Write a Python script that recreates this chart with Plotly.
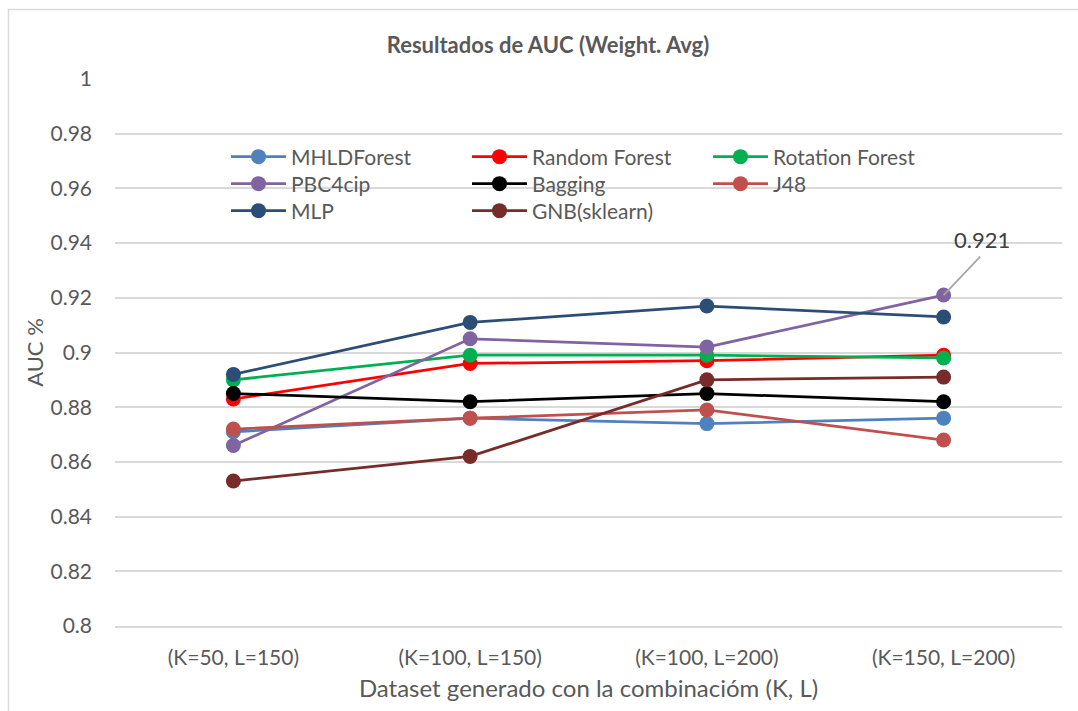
import plotly.graph_objects as go

categories = ["(K=50, L=150)", "(K=100, L=150)", "(K=100, L=200)", "(K=150, L=200)"]

mhldforest = [0.871, 0.876, 0.874, 0.876]
random_forest = [0.883, 0.896, 0.897, 0.899]
rotation_forest = [0.890, 0.899, 0.899, 0.898]
pbc4cip = [0.866, 0.905, 0.902, 0.921]
bagging = [0.885, 0.882, 0.885, 0.882]
j48 = [0.872, 0.876, 0.879, 0.868]
mlp = [0.892, 0.911, 0.917, 0.913]
gnb = [0.853, 0.862, 0.890, 0.891]

series = [
    ("MHLDForest", mhldforest, "#4F81BD", "legend"),
    ("Random Forest", random_forest, "#FF0000", "legend"),
    ("Rotation Forest", rotation_forest, "#00B050", "legend"),
    ("PBC4cip", pbc4cip, "#8064A2", "legend2"),
    ("Bagging", bagging, "#000000", "legend2"),
    ("J48", j48, "#C0504D", "legend2"),
    ("MLP", mlp, "#2C4D75", "legend3"),
    ("GNB(sklearn)", gnb, "#772C2A", "legend3"),
]

FONT = "Lato, Carlito, Calibri, sans-serif"
W, H = 1078, 711
L, R, T, B = 115, 16, 79, 85
pw, ph = W - L - R, H - T - B

fig = go.Figure()
for name, vals, color, lg in series:
    fig.add_trace(go.Scatter(
        x=categories, y=vals, name=name, mode="lines+markers",
        line=dict(color=color, width=2.75),
        marker=dict(color=color, size=15),
        legend=lg,
    ))

def px2paper_x(px):
    return (px - L) / pw

def px2paper_y(py):
    return (H - B - py) / ph

leg_common = dict(orientation="h", entrywidth=171, entrywidthmode="pixels",
                  font=dict(family=FONT, size=21, color="#595959"),
                  bgcolor="rgba(0,0,0,0)", xanchor="left", yanchor="middle",
                  itemwidth=55, tracegroupgap=0)

fig.update_layout(
    width=W, height=H,
    margin=dict(l=L, r=R, t=T, b=B),
    paper_bgcolor="white", plot_bgcolor="white",
    font=dict(family=FONT, color="#595959"),
    title=dict(text="<b>Resultados de AUC (Weight. Avg)</b>", x=548 / W, xanchor="center",
               y=1 - 45 / H, yanchor="middle", font=dict(family=FONT, size=22, color="#595959")),
    legend=dict(x=px2paper_x(226), y=px2paper_y(157), **leg_common),
    legend2=dict(x=px2paper_x(226), y=px2paper_y(184), **leg_common),
    legend3=dict(x=px2paper_x(226), y=px2paper_y(211), **leg_common),
    xaxis=dict(type="category", range=[-0.5, 3.5], showgrid=False, zeroline=False,
               showline=True, linecolor="#D9D9D9", linewidth=1.5,
               ticks="", tickfont=dict(family=FONT, size=21, color="#595959"),
               ticklabelstandoff=12,
               title=dict(text="Dataset generado con la combinacióm (K, L)", standoff=12,
                          font=dict(family=FONT, size=24, color="#595959"))),
    yaxis=dict(range=[0.8, 1.0], dtick=0.02, tick0=0.8, showgrid=True, gridcolor="#D9D9D9",
               gridwidth=1.5, zeroline=False, showline=False, ticks="",
               tickformat="~g",
               tickfont=dict(family=FONT, size=21, color="#595959"),
               ticklabelstandoff=22,
               title=dict(text="AUC %", standoff=0,
                          font=dict(family=FONT, size=22, color="#595959"))),
    showlegend=True,
)

# leader line and data label for the PBC4cip peak value
fig.add_annotation(x=categories[3], y=pbc4cip[3], xref="x", yref="y",
                   text="", showarrow=True, arrowhead=0,
                   arrowcolor="#A6A6A6", arrowwidth=1.75, ax=38, ay=-40,
                   standoff=0)
fig.add_annotation(x=categories[3], y=pbc4cip[3], xref="x", yref="y",
                   text=f"{pbc4cip[3]:.3f}", showarrow=False, xshift=38, yshift=56,
                   font=dict(family=FONT, size=22, color="#404040"))

fig.add_shape(type="rect", xref="paper", yref="paper",
              x0=px2paper_x(8.5), x1=px2paper_x(1100), y0=px2paper_y(730), y1=px2paper_y(9.5),
              line=dict(color="#D9D9D9", width=1.5), fillcolor="rgba(0,0,0,0)", layer="below")

fig.write_html("out.html")
